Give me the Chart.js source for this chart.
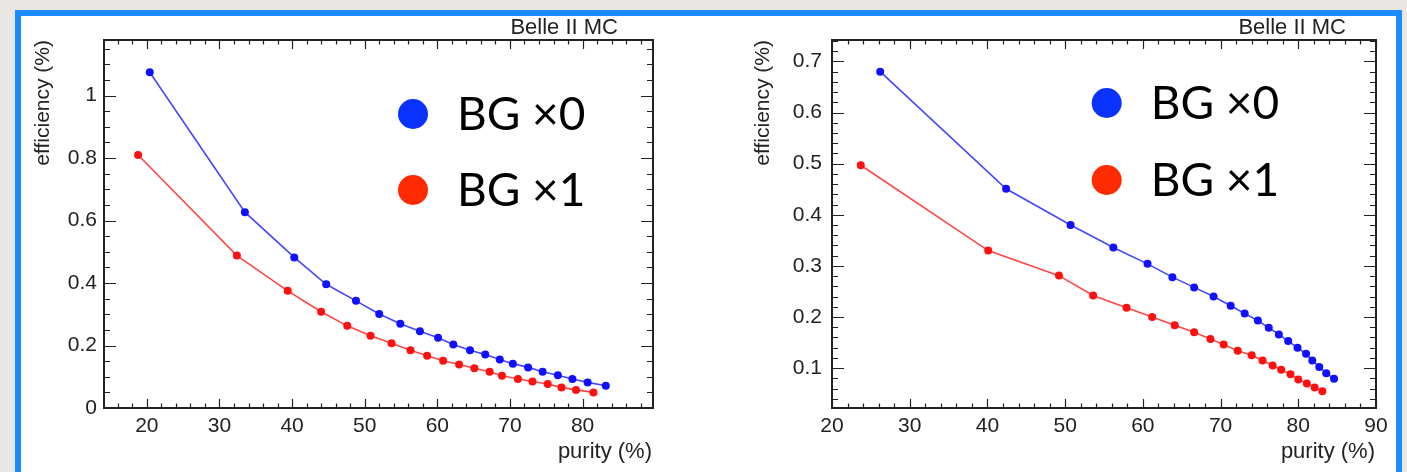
<!DOCTYPE html>
<html>
<head>
<meta charset="utf-8">
<script src="https://cdn.jsdelivr.net/npm/chart.js"></script>
<style>
  html, body { margin: 0; padding: 0; }
  body { width: 1407px; height: 472px; background: #e9e7e4; position: relative; overflow: hidden; }
  #frame { position: absolute; left: 15px; top: 10px; width: 1387px; height: 480px; box-sizing: border-box;
           border: 6px solid #1a8cff; background: #fff; }
  canvas { position: absolute; top: 0; }
  #left { left: 0; }
  #right { left: 700px; }
</style>
</head>
<body>
<div id="frame"></div>
<canvas id="left" width="700" height="472"></canvas>
<canvas id="right" width="707" height="472"></canvas>
<script>
// left panel
const leftPurityBG0 = [20.4, 33.5, 40.3, 44.7, 48.8, 52.0, 54.9, 57.6, 60.1, 62.2, 64.5, 66.6, 68.6, 70.4, 72.5, 74.5, 76.6, 78.6, 80.7, 83.2];
const leftEffBG0    = [1.075, 0.627, 0.482, 0.396, 0.343, 0.301, 0.270, 0.246, 0.225, 0.203, 0.185, 0.171, 0.155, 0.142, 0.130, 0.116, 0.105, 0.093, 0.082, 0.071];
const leftPurityBG1 = [18.8, 32.4, 39.4, 44.0, 47.6, 50.8, 53.7, 56.3, 58.6, 60.8, 63.0, 65.1, 67.2, 68.9, 71.1, 73.1, 75.2, 77.1, 79.1, 81.5];
const leftEffBG1    = [0.810, 0.488, 0.375, 0.308, 0.263, 0.231, 0.207, 0.185, 0.167, 0.151, 0.139, 0.127, 0.116, 0.103, 0.093, 0.085, 0.077, 0.066, 0.058, 0.050];
const leftXTicks = [20, 30, 40, 50, 60, 70, 80];
const leftYTicks = [0, 0.2, 0.4, 0.6, 0.8, 1];

// right panel
const rightPurityBG0 = [26.2, 42.4, 50.7, 56.2, 60.6, 63.8, 66.6, 69.1, 71.3, 73.1, 74.8, 76.2, 77.5, 78.7, 79.9, 81.0, 81.8, 82.7, 83.6, 84.6];
const rightEffBG0    = [0.680, 0.451, 0.380, 0.336, 0.304, 0.278, 0.258, 0.240, 0.222, 0.207, 0.193, 0.179, 0.166, 0.153, 0.140, 0.128, 0.115, 0.102, 0.090, 0.079];
const rightPurityBG1 = [23.7, 40.1, 49.2, 53.6, 57.9, 61.2, 64.1, 66.6, 68.7, 70.4, 72.2, 74.0, 75.4, 76.7, 77.8, 79.0, 80.0, 81.1, 82.1, 83.1];
const rightEffBG1    = [0.497, 0.330, 0.281, 0.242, 0.218, 0.200, 0.184, 0.170, 0.157, 0.146, 0.134, 0.125, 0.115, 0.105, 0.097, 0.088, 0.078, 0.070, 0.062, 0.055];
const rightXTicks = [20, 30, 40, 50, 60, 70, 80, 90];
const rightYTicks = [0.1, 0.2, 0.3, 0.4, 0.5, 0.6, 0.7];

const legendLabels = ['BG \u00d70', 'BG \u00d71'];
const blue = '#0a32ff', red = '#ff2a00';

function pts(xs, ys) { return xs.map((x, i) => ({ x: x, y: ys[i] })); }

function minorValues(min, max, step) {
  const out = [];
  for (let k = Math.ceil(min / step - 1e-6); k * step <= max + 1e-9; k++) out.push(k * step);
  return out;
}

// ROOT style frame with inward ticks on all four sides, titles and legend
const rootFrame = {
  id: 'rootFrame',
  beforeDatasetsDraw(chart, args, o) {
    const ctx = chart.ctx, a = chart.chartArea;
    const xs = chart.scales.x, ys = chart.scales.y;
    ctx.save();
    ctx.strokeStyle = '#222';
    ctx.lineWidth = 1.2;
    ctx.beginPath();
    minorValues(xs.min, xs.max, o.xMinor).forEach(v => {
      const p = Math.round(xs.getPixelForValue(v)) + 0.5;
      const len = o.xTicks.some(t => Math.abs(t - v) < 1e-6) ? 9 : 4.5;
      ctx.moveTo(p, a.bottom); ctx.lineTo(p, a.bottom - len);
      ctx.moveTo(p, a.top); ctx.lineTo(p, a.top + len);
    });
    minorValues(ys.min, ys.max, o.yMinor).forEach(v => {
      const p = Math.round(ys.getPixelForValue(v)) + 0.5;
      const len = o.yTicks.some(t => Math.abs(t - v) < 1e-6) ? 12 : 6;
      ctx.moveTo(a.left, p); ctx.lineTo(a.left + len, p);
      ctx.moveTo(a.right, p); ctx.lineTo(a.right - len, p);
    });
    ctx.stroke();
    ctx.lineWidth = 2;
    ctx.strokeRect(a.left, a.top, a.right - a.left, a.bottom - a.top);
    ctx.restore();
  },
  afterDraw(chart, args, o) {
    const ctx = chart.ctx, a = chart.chartArea;
    ctx.save();
    ctx.fillStyle = '#222';
    ctx.textAlign = 'right';
    ctx.textBaseline = 'alphabetic';
    ctx.font = '22px "Liberation Sans"';
    ctx.fillText('Belle II MC', a.right - o.tagInset, 34);
    ctx.fillText('purity (%)', a.right - 1, 458);
    ctx.font = '21px "Liberation Sans"';
    ctx.translate(a.left - o.yTitleGap, a.top);
    ctx.rotate(-Math.PI / 2);
    ctx.fillText('efficiency (%)', 0, 0);
    ctx.restore();

    // legend
    ctx.save();
    ctx.font = '46px Lato';
    ctx.textBaseline = 'alphabetic';
    chart.data.datasets.forEach((ds, i) => {
      const cy = o.legY[i];
      ctx.fillStyle = ds.legendColor;
      ctx.beginPath();
      ctx.arc(o.legX, cy, 15, 0, Math.PI * 2);
      ctx.fill();
      ctx.fillStyle = '#000';
      ctx.fillText(ds.label, o.legX + 44, cy + 16);
    });
    ctx.restore();
  }
};

function makePanel(id, cfg) {
  new Chart(document.getElementById(id), {
    type: 'scatter',
    data: {
      datasets: [
        { label: legendLabels[0], data: pts(cfg.x0, cfg.y0), showLine: true, borderColor: '#4646ff',
          backgroundColor: '#1010ff', borderWidth: 1.6, pointRadius: 4, pointBorderWidth: 0, legendColor: blue },
        { label: legendLabels[1], data: pts(cfg.x1, cfg.y1), showLine: true, borderColor: '#ff4646',
          backgroundColor: '#ff1010', borderWidth: 1.6, pointRadius: 4, pointBorderWidth: 0, legendColor: red }
      ]
    },
    options: {
      responsive: false,
      animation: false,
      devicePixelRatio: 1,
      layout: { padding: { left: cfg.padLeft, right: cfg.padRight, top: 40, bottom: 34 } },
      plugins: {
        legend: { display: false },
        tooltip: { enabled: false },
        rootFrame: cfg.frame
      },
      scales: {
        x: {
          type: 'linear', min: cfg.xMin, max: cfg.xMax,
          grid: { display: false, drawTicks: false }, border: { display: false },
          ticks: { padding: 6, color: '#222', font: { family: 'Liberation Sans', size: 21 } },
          afterBuildTicks: s => { s.ticks = cfg.xTicks.map(v => ({ value: v })); },
          afterFit: s => { s.height = 30; }
        },
        y: {
          type: 'linear', min: cfg.yMin, max: cfg.yMax,
          grid: { display: false, drawTicks: false }, border: { display: false },
          ticks: { padding: cfg.yPad, color: '#222', font: { family: 'Liberation Sans', size: 21 }, callback: v => String(v) },
          afterBuildTicks: s => { s.ticks = cfg.yTicks.map(v => ({ value: v })); },
          afterFit: s => { s.width = 40; }
        }
      }
    },
    plugins: [rootFrame]
  });
}

makePanel('left', {
  x0: leftPurityBG0, y0: leftEffBG0, x1: leftPurityBG1, y1: leftEffBG1,
  xMin: 14.1, xMax: 89.7, yMin: 0, yMax: 1.178, xTicks: leftXTicks, yTicks: leftYTicks,
  padLeft: 64, padRight: 47, yPad: 7,
  frame: { xTicks: leftXTicks, yTicks: leftYTicks, xMinor: 2, yMinor: 0.05,
           tagInset: 35, yTitleGap: 55, legX: 413, legY: [114, 190] }
});

makePanel('right', {
  x0: rightPurityBG0, y0: rightEffBG0, x1: rightPurityBG1, y1: rightEffBG1,
  xMin: 20, xMax: 90, yMin: 0.022, yMax: 0.742, xTicks: rightXTicks, yTicks: rightYTicks,
  padLeft: 92, padRight: 31, yPad: 10,
  frame: { xTicks: rightXTicks, yTicks: rightYTicks, xMinor: 2, yMinor: 0.02,
           tagInset: 30, yTitleGap: 63, legX: 406.7, legY: [103, 180] }
});
</script>
</body>
</html>
